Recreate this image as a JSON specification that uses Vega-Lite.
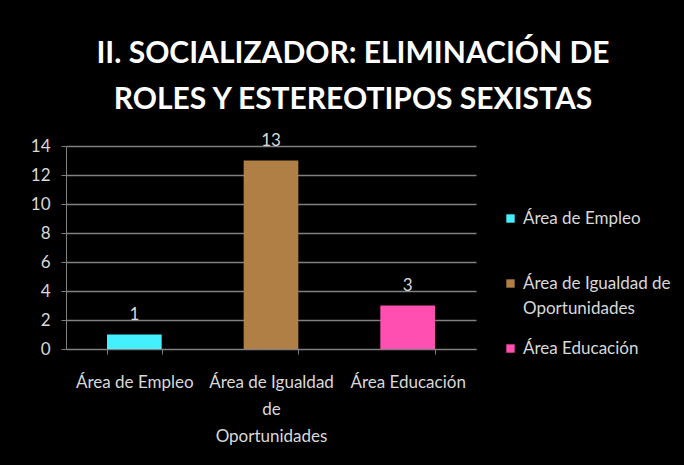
{
  "$schema": "https://vega.github.io/schema/vega-lite/v6.json",
  "width": 410,
  "height": 203,
  "autosize": {"type": "none"},
  "padding": {"left": 66, "top": 146, "right": 208, "bottom": 116},
  "background": "#000000",
  "config": {"view": {"stroke": null}},
  "title": {
    "text": ["II. SOCIALIZADOR: ELIMINACIÓN DE", "ROLES Y ESTEREOTIPOS SEXISTAS"],
    "font": "Lato",
    "fontSize": 30,
    "fontWeight": "bold",
    "color": "#ffffff",
    "anchor": "middle",
    "frame": "group",
    "dx": 82,
    "offset": 17,
    "lineHeight": 46
  },
  "data": {
    "values": [
      {"area": "Área de Empleo", "valor": 1},
      {"area": "Área de Igualdad de Oportunidades", "valor": 13},
      {"area": "Área Educación", "valor": 3}
    ]
  },
  "encoding": {
    "x": {
      "field": "area",
      "type": "nominal",
      "sort": null,
      "scale": {"paddingInner": 0.6, "paddingOuter": 0.3},
      "axis": {
        "title": null,
        "labelAngle": 0,
        "tickBand": "extent",
        "labelExpr": "datum.label == 'Área de Igualdad de Oportunidades' ? ['Área de Igualdad', 'de', 'Oportunidades'] : datum.label",
        "labelFont": "Lato",
        "labelFontSize": 17,
        "labelColor": "#d9d9d9",
        "labelLineHeight": 27,
        "labelPadding": 20,
        "labelBaseline": "top",
        "labelLimit": 300,
        "domainColor": "#808080",
        "tickColor": "#808080",
        "tickSize": 5,
        "grid": false
      }
    },
    "y": {
      "field": "valor",
      "type": "quantitative",
      "scale": {"domain": [0, 14]},
      "axis": {
        "title": null,
        "values": [0, 2, 4, 6, 8, 10, 12, 14],
        "labelFont": "Lato",
        "labelFontSize": 17,
        "labelColor": "#d9d9d9",
        "labelPadding": 11,
        "domainColor": "#808080",
        "tickColor": "#808080",
        "tickSize": 5,
        "gridColor": "#808080",
        "gridWidth": 1.5
      }
    }
  },
  "layer": [
    {
      "mark": {"type": "bar"},
      "encoding": {
        "color": {
          "field": "area",
          "type": "nominal",
          "sort": null,
          "scale": {
            "domain": ["Área de Empleo", "Área de Igualdad de Oportunidades", "Área Educación"],
            "range": ["#44F0FF", "#B07F45", "#FF4FB0"]
          },
          "legend": {
            "title": null,
            "orient": "none",
            "legendX": 436,
            "legendY": 64,
            "symbolType": "square",
            "symbolSize": 70,
            "symbolStrokeWidth": 0,
            "labelFont": "Lato",
            "labelFontSize": 17,
            "labelColor": "#d9d9d9",
            "labelLimit": 300,
            "labelOffset": 4,
            "rowPadding": 22,
            "labelExpr": "datum.label == 'Área de Igualdad de Oportunidades' ? ['Área de Igualdad de', 'Oportunidades'] : [datum.label, ' ']",
            "encode": {"labels": {"update": {"lineHeight": {"value": 25}}}}
          }
        }
      }
    },
    {
      "mark": {"type": "text", "baseline": "bottom", "dy": -11, "font": "Lato", "fontSize": 17, "color": "#d9d9d9"},
      "encoding": {"text": {"field": "valor", "type": "quantitative"}}
    }
  ]
}
